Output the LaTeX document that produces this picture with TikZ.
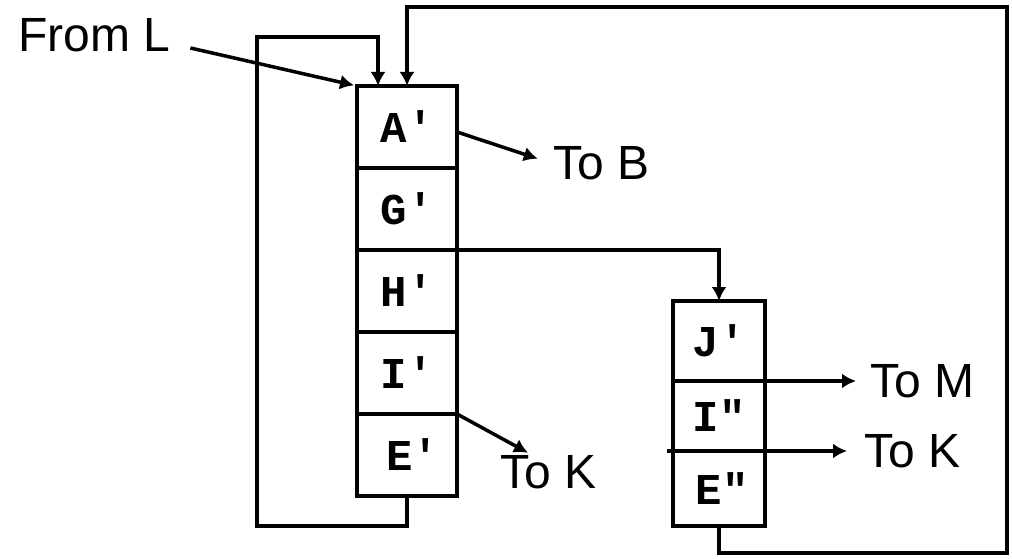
\documentclass[tikz,border=0pt]{standalone}
\usepackage{fontspec}
\setmainfont{Liberation Sans}
\setmonofont{Liberation Mono}
\usetikzlibrary{positioning,arrows.meta}

\begin{document}
\begin{tikzpicture}[
  x=1pt, y=1pt,
  cell/.style={draw, line width=3.5pt, minimum width=100pt, minimum height=82pt, inner sep=0pt, outer sep=0pt, font=\ttfamily\bfseries\fontsize{44}{44}\selectfont},
  smallcell/.style={cell, minimum width=92pt},
  lbl/.style={inner sep=0pt, font=\fontsize{48}{50}\selectfont},
  wire/.style={line width=3.5pt},
  arr/.style={wire, -{Latex[length=14pt,width=15pt]}},
]
\useasboundingbox (0,0) rectangle (1012,558);
% left stack
\node[cell, anchor=north] (a1) at (407,472) {A'};
\node[cell, below=0pt of a1] (g1) {G'};
\node[cell, below=0pt of g1] (h1) {H'};
\node[cell, below=0pt of h1] (i1) {I'};
\node[cell, below=0pt of i1] (e1) {\hspace*{12pt}E'};
% right stack
\node[smallcell, anchor=north, minimum height=80pt] (j1) at (719,257) {J'};
\node[smallcell, below=0pt of j1, minimum height=70pt] (i2) {I"};
\node[smallcell, below=0pt of i2, minimum height=75pt] (e2) {\hspace*{6pt}E"};
% labels
\node[lbl, anchor=base west] (fromL) at (18,506) {From L};
\node[lbl, anchor=base west] (toB) at (553,378) {To B};
\node[lbl, anchor=base west] (toK1) at (500,70) {To K};
\node[lbl, anchor=base west] (toM) at (870,161) {To M};
\node[lbl, anchor=base west] (toK2) at (864,91) {To K};
% input
\draw[arr, shorten >=3pt] ([xshift=20pt,yshift=4pt]fromL.base east) -- (a1.north west);
% loops back to the top
\draw[arr] (e1.south) -- ++(0,-30) -| (257,521) -| ([xshift=-29pt]a1.north);
\draw[arr] (e2.south) -- ++(0,-27) -| (1007,551) -| (a1.north);
\draw[arr] (h1.north east) -| (j1.north);
% outputs
\draw[arr, shorten >=16pt] ([yshift=-5pt]a1.east) -- (toB.west);
\draw[arr] (i1.south east) -- ([xshift=28pt,yshift=2pt]toK1.north west);
\draw[arr, shorten >=14pt] (j1.south east) -- (j1.south east -| toM.west);
\draw[arr, shorten >=17pt] ([xshift=-6pt]i2.south west) -- (i2.south west -| toK2.west);
\end{tikzpicture}
\end{document}
